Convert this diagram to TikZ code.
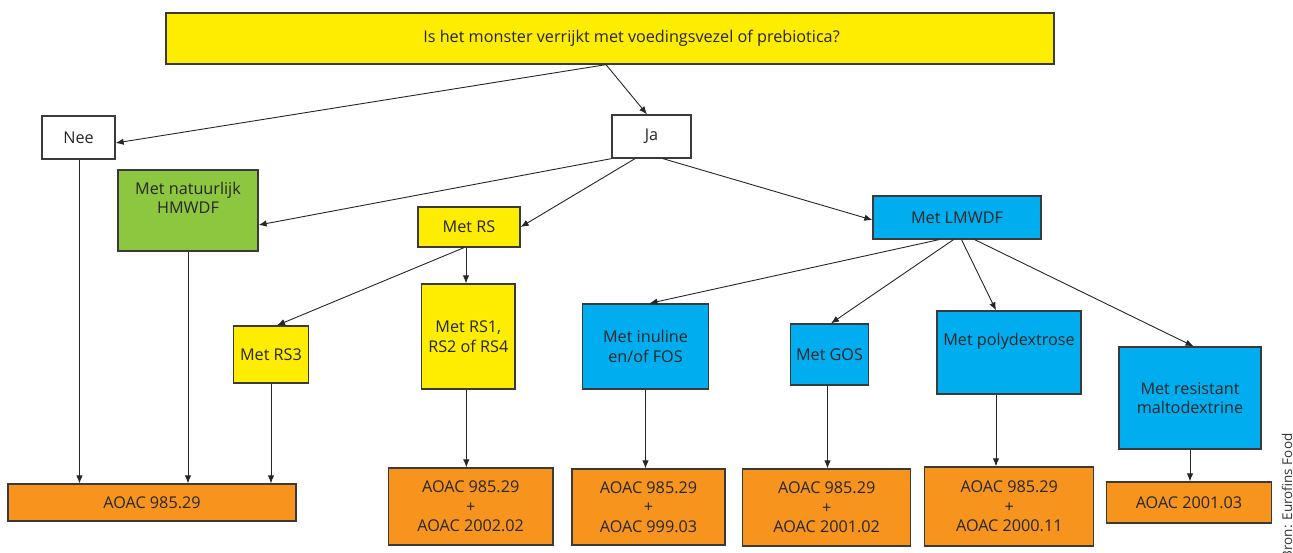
\documentclass[tikz,border=0pt]{standalone}
\usepackage{fontspec}
\setmainfont{Open Sans}
\usetikzlibrary{arrows.meta}
\definecolor{cyel}{HTML}{FFED00}
\definecolor{cgrn}{HTML}{8DC63F}
\definecolor{cblu}{HTML}{00AEEF}
\definecolor{corg}{HTML}{F7941D}
\definecolor{cbrd}{HTML}{3A3A3A}
\tikzset{
  box/.style={draw=cbrd, line width=1.3pt, align=center, inner sep=0pt, font=\fontsize{16.2}{19.5}\selectfont, text=black!85},
  yel/.style={box, fill=cyel},
  grn/.style={box, fill=cgrn},
  blu/.style={box, fill=cblu},
  org/.style={box, fill=corg},
  wht/.style={box, fill=white},
  arr/.style={-{Latex[length=8pt,width=6.5pt]}, line width=0.9pt, draw=black!85},
}
\begin{document}
\begin{tikzpicture}[x=1pt,y=-1pt]
\useasboundingbox (0,0) rectangle (1293,553);
\node[yel, minimum width=888pt, minimum height=51pt] (top) at (610,38.5) {\hspace*{43pt}Is het monster verrijkt met voedingsvezel of prebiotica?};
\node[wht, minimum width=73pt, minimum height=43pt] (nee) at (78.5,137.5) {Nee};
\node[wht, minimum width=79pt, minimum height=43pt] (ja) at (651.5,136.5) {Ja};
\node[grn, minimum width=140pt, minimum height=81pt] (grn) at (188,210.5) {Met natuurlijk\\HMWDF\\[6pt]};
\node[yel, minimum width=102pt, minimum height=40pt] (rs) at (469,227) {Met RS};
\node[blu, minimum width=168pt, minimum height=43pt] (lm) at (957,217.5) {Met LMWDF};
\node[yel, minimum width=74.5pt, minimum height=57pt] (rs3) at (271,354.5) {Met RS3};
\node[yel, minimum width=93.4pt, minimum height=105pt] (rs1) at (468.3,336.5) {Met RS1,\\RS2 of RS4};
\node[blu, minimum width=126.3pt, minimum height=85pt] (inu) at (645.5,346.5) {Met inuline\\en/of FOS};
\node[blu, minimum width=78pt, minimum height=61pt] (gos) at (829.5,354.5) {Met GOS};
\node[blu, minimum width=144pt, minimum height=83pt] (pol) at (1009,352.5) {Met polydextrose\\[6pt]};
\node[blu, minimum width=142pt, minimum height=102pt] (res) at (1190,398) {Met resistant\\maltodextrine};
\node[org, minimum width=288pt, minimum height=37pt] (a1) at (152,502.5) {AOAC 985.29};
\node[org, minimum width=164.5pt, minimum height=77pt] (a2) at (470.7,506.5) {AOAC 985.29\\+\\AOAC 2002.02};
\node[org, minimum width=153pt, minimum height=76pt] (a3) at (648.5,507) {AOAC 985.29\\+\\AOAC 999.03};
\node[org, minimum width=168pt, minimum height=77pt] (a4) at (826.7,507.5) {AOAC 985.29\\+\\AOAC 2001.02};
\node[org, minimum width=169pt, minimum height=79pt] (a5) at (1009.3,506.5) {AOAC 985.29\\+\\AOAC 2000.11};
\node[org, minimum width=164.5pt, minimum height=41pt] (a6) at (1189,502.5) {AOAC 2001.03};
\node[rotate=90, anchor=base east, font=\fontsize{13.5}{16}\selectfont, text=black!80] (src) at (1292,430) {Bron: Eurofins Food};
% connectors
\draw[arr] ([xshift=-4pt]top.south) -- ([yshift=-5.5pt]nee.east);
\draw[arr] ([xshift=-4pt]top.south) -- ([xshift=-4.5pt]ja.north);
\draw[arr] (ja.south west) -- ([yshift=-14.5pt]grn.east);
\draw[arr] ([xshift=-16.5pt]ja.south) -- (rs.east);
\draw[arr] ([xshift=11.5pt]ja.south) -- ([yshift=-2.5pt]lm.west);
\draw[arr] ([xshift=1pt]nee.south) -- ([xshift=1pt]nee.south |- a1.north);
\draw[arr] (grn.south) -- (grn.south |- a1.north);
\draw[arr] (rs3.south) -- (rs3.south |- a1.north);
\draw[arr] ([xshift=-5pt]rs.south) -- ([xshift=6pt]rs3.north);
\draw[arr] ([xshift=-3pt]rs.south) -- ([xshift=-3pt]rs.south |- rs1.north);
\draw[arr] ([xshift=-2pt]rs1.south) -- ([xshift=-2pt]rs1.south |- a2.north);
\draw[arr] ([xshift=-18pt]lm.south) -- ([xshift=4pt]inu.north);
\draw[arr] ([xshift=-3.5pt]lm.south) -- ([xshift=1.5pt]gos.north);
\draw[arr] ([xshift=4.5pt]lm.south) -- ([xshift=-13pt]pol.north);
\draw[arr] ([xshift=17.7pt]lm.south) -- ([xshift=3.5pt]res.north);
\draw[arr] (inu.south) -- (inu.south |- a3.north);
\draw[arr] ([xshift=-2pt]gos.south) -- ([xshift=-2pt]gos.south |- a4.north);
\draw[arr] ([xshift=-13pt]pol.south) -- ([xshift=-13pt]pol.south |- a5.north);
\draw[arr] (res.south) -- (res.south |- a6.north);
\end{tikzpicture}
\end{document}
